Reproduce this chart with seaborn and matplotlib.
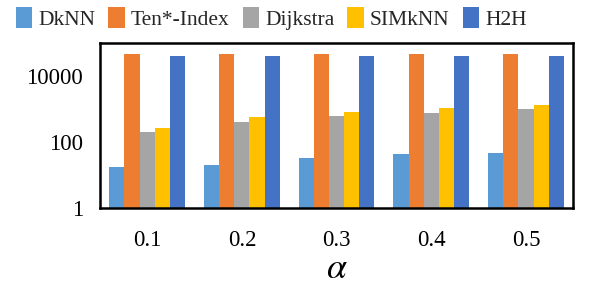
import matplotlib
matplotlib.use("Agg")
import matplotlib.pyplot as plt
import matplotlib.ticker as mticker
from matplotlib.font_manager import FontProperties
import seaborn as sns
import pandas as pd

alphas = ["0.1", "0.2", "0.3", "0.4", "0.5"]
methods = ["DkNN", "Ten*-Index", "Dijkstra", "SIMkNN", "H2H"]
dknn = [17, 20, 32, 42, 45]
ten_index = [45000, 45000, 45000, 45000, 45000]
dijkstra = [205, 410, 620, 760, 1000]
simknn = [265, 570, 820, 1080, 1330]
h2h = [40000, 40000, 40000, 40000, 40000]
colors = ["#5B9BD5", "#ED7D31", "#A5A5A5", "#FFC000", "#4472C4"]
yticks = [1, 100, 10000]

series = [dknn, ten_index, dijkstra, simknn, h2h]
rows = []
for m, vals in zip(methods, series):
    for a, v in zip(alphas, vals):
        rows.append({"alpha": a, "method": m, "value": v})
df = pd.DataFrame(rows)

sns.set_theme(style="white")
plt.rcParams["font.family"] = "serif"
plt.rcParams["font.serif"] = ["Liberation Serif", "DejaVu Serif"]
plt.rcParams["mathtext.fontset"] = "stix"

tick_fp = FontProperties(family="Liberation Serif", size=16.5)
leg_fp = FontProperties(family="Liberation Serif", size=15.5)

fig = plt.figure(figsize=(5.91, 2.96), dpi=100)
ax = fig.add_axes([0.169, 0.297, 0.801, 0.559])

sns.barplot(data=df, x="alpha", y="value", hue="method", order=alphas,
            hue_order=methods, palette=colors, width=0.8, saturation=1,
            errorbar=None, ax=ax, legend=True, linewidth=0, edgecolor="none")

ax.set_yscale("log")
ax.set_ylim(1, 100000)
ax.set_yticks(yticks)
ax.yaxis.set_major_formatter(mticker.FuncFormatter(lambda v, p: f"{int(round(v))}"))
ax.yaxis.set_minor_locator(mticker.NullLocator())
ax.set_xlim(-0.5, 4.5)

for s in ax.spines.values():
    s.set_visible(True)
    s.set_color("black")
    s.set_linewidth(1.8)

ax.tick_params(axis="both", length=0, colors="black")
ax.tick_params(axis="x", pad=16)
ax.tick_params(axis="y", pad=12)
for lab in ax.get_xticklabels() + ax.get_yticklabels():
    lab.set_fontproperties(tick_fp)
ax.set_ylabel("")
ax.set_xlabel(r"$\alpha$", fontsize=26, labelpad=1, color="black")

handles, labels = ax.get_legend_handles_labels()
ax.get_legend().remove()
fig.legend(handles, labels, loc="upper left", bbox_to_anchor=(0.005, 1.02),
           ncol=5, frameon=False, prop=leg_fp, handlelength=0.75,
           handleheight=1.1, handletextpad=0.3, columnspacing=0.6,
           borderaxespad=0.2)

fig.savefig("out.png", dpi=100, facecolor="white")
